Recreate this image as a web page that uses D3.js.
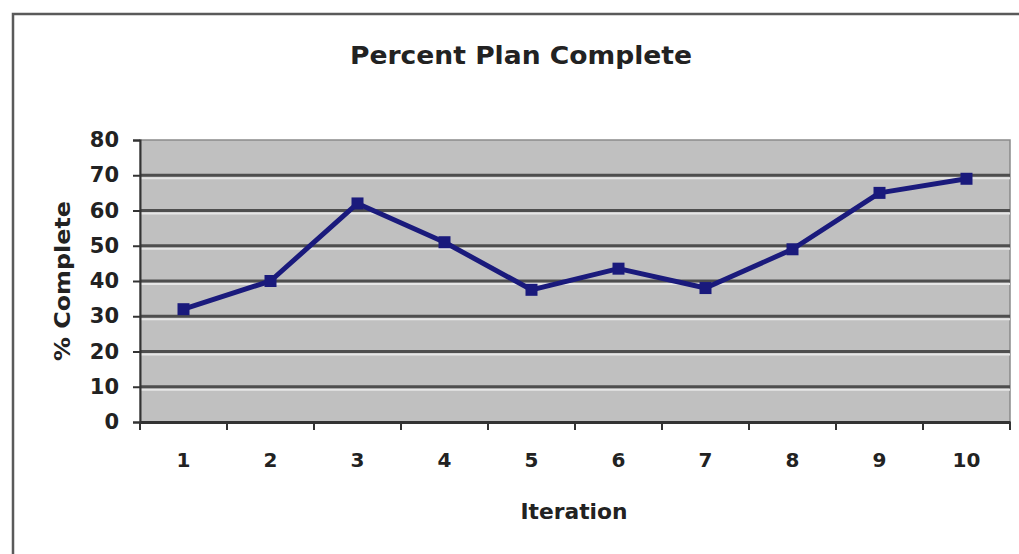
<!DOCTYPE html>
<html>
<head>
<meta charset="utf-8">
<script src="https://cdn.jsdelivr.net/npm/d3@7"></script>
<style>
	body { margin: 0; background: #fff; }
	svg { display: block; }
	text { font-family: "DejaVu Sans", Verdana, sans-serif; font-weight: bold; fill: #222; }
</style>
</head>
<body>
<svg></svg>
<script>
const iterations = ['1', '2', '3', '4', '5', '6', '7', '8', '9', '10'];
const percentComplete = [32, 40, 62, 51, 37.5, 43.5, 38, 49, 65, 69];
const yTicks = [0, 10, 20, 30, 40, 50, 60, 70, 80];

const chartTitle = 'Percent Plan Complete';
const xTitle = 'Iteration';
const yTitle = '% Complete';

function renderLinechart() {
	const W = 1019, H = 554;
	const margin = { top: 140, right: 9, bottom: 132, left: 140 };
	const width = W - margin.left - margin.right;
	const height = H - margin.top - margin.bottom;

	const svg = d3.select('body').select('svg')
		.attr('width', W)
		.attr('height', H);

	// outer chart frame (runs off the right and bottom edges)
	svg.append('rect')
		.attr('x', 13).attr('y', 14)
		.attr('width', W + 20).attr('height', H + 20)
		.attr('fill', 'none')
		.attr('stroke', '#5a5a5a')
		.attr('stroke-width', 2.5);

	svg.append('text')
		.attr('x', 521).attr('y', 64)
		.attr('text-anchor', 'middle')
		.attr('font-size', 25)
		.attr('textLength', 342)
		.attr('lengthAdjust', 'spacingAndGlyphs')
		.text(chartTitle);

	const g = svg.append('g')
		.attr('transform', 'translate(' + margin.left + ',' + margin.top + ')');

	const xScale = d3.scaleBand()
		.domain(iterations)
		.range([0, width]);

	const yScale = d3.scaleLinear()
		.domain([0, 80])
		.range([height, 0]);

	// plot background
	g.append('rect')
		.attr('width', width).attr('height', height)
		.attr('fill', '#c0c0c0')
		.attr('stroke', '#8a8a8a')
		.attr('stroke-width', 1.5);

	// gridlines: dark line with a light highlight underneath
	const grid = yTicks.filter(t => t > 0 && t < 80);
	g.selectAll('.grid-hi')
		.data(grid)
		.enter().append('line')
		.attr('x1', 0).attr('x2', width)
		.attr('y1', d => yScale(d) + 3).attr('y2', d => yScale(d) + 3)
		.attr('stroke', '#e6e6e6')
		.attr('stroke-width', 2);
	g.selectAll('.grid')
		.data(grid)
		.enter().append('line')
		.attr('x1', 0).attr('x2', width)
		.attr('y1', d => yScale(d)).attr('y2', d => yScale(d))
		.attr('stroke', '#4e4e4e')
		.attr('stroke-width', 3);

	// y axis
	const yAxis = g.append('g')
		.call(d3.axisLeft(yScale).tickValues(yTicks).tickSize(7).tickPadding(14));
	yAxis.select('.domain').attr('stroke', '#333').attr('stroke-width', 2);
	yAxis.selectAll('.tick line').attr('stroke', '#333').attr('stroke-width', 2);
	yAxis.selectAll('.tick text')
		.attr('font-size', 21)
		.attr('fill', '#2a2a2a');

	// x axis: labels centred, tick marks between categories
	const xAxis = g.append('g')
		.attr('transform', 'translate(0,' + height + ')')
		.call(d3.axisBottom(xScale).tickSize(0).tickPadding(31));
	xAxis.select('.domain').attr('stroke', '#333').attr('stroke-width', 3);
	xAxis.selectAll('.tick text')
		.attr('font-size', 20)
		.attr('fill', '#2a2a2a');

	const edges = iterations.map(d => xScale(d)).concat([xScale.range()[1]]);
	xAxis.selectAll('.xtick')
		.data(edges)
		.enter().append('line')
		.attr('x1', d => d).attr('x2', d => d)
		.attr('y1', 0).attr('y2', 8)
		.attr('stroke', '#333')
		.attr('stroke-width', 2);

	g.append('text')
		.attr('x', 434).attr('y', height + 97)
		.attr('text-anchor', 'middle')
		.attr('font-size', 21)
		.attr('textLength', 107)
		.attr('lengthAdjust', 'spacingAndGlyphs')
		.text(xTitle);

	svg.append('text')
		.attr('transform', 'translate(70,281) rotate(-90)')
		.attr('text-anchor', 'middle')
		.attr('font-size', 21)
		.attr('textLength', 160)
		.attr('lengthAdjust', 'spacingAndGlyphs')
		.text(yTitle);

	// series
	const data = iterations.map((d, i) => [d, percentComplete[i]]);
	const line = d3.line()
		.x(d => xScale(d[0]) + xScale.bandwidth() / 2)
		.y(d => yScale(d[1]));

	g.append('path')
		.datum(data)
		.attr('fill', 'none')
		.attr('stroke', '#1a1a7c')
		.attr('stroke-width', 5)
		.attr('stroke-linejoin', 'round')
		.attr('d', line);

	g.selectAll('.dot')
		.data(data)
		.enter().append('rect')
		.attr('class', 'dot')
		.attr('x', d => xScale(d[0]) + xScale.bandwidth() / 2 - 6)
		.attr('y', d => yScale(d[1]) - 6)
		.attr('width', 12).attr('height', 12)
		.attr('fill', '#1a1a7c');
}

renderLinechart();
</script>
</body>
</html>
